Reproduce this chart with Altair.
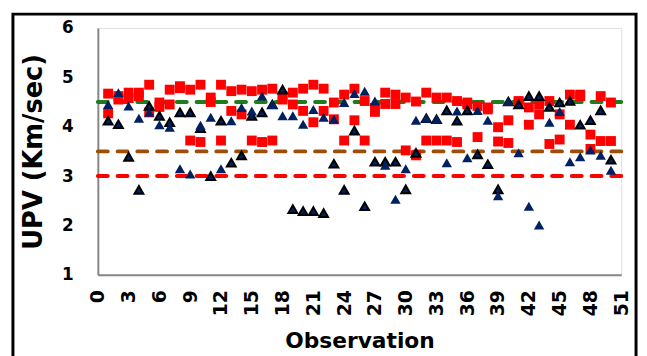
import altair as alt
import pandas as pd

# ---- data ----
obs = list(range(1, 51))
red_a = [4.67, 4.62, 4.69, 4.69, 4.85, 4.49, 4.75, 4.82, 4.75, 4.85,
         4.59, 4.85, 4.72, 4.75, 4.72, 4.75, 4.77, 4.62, 4.69, 4.77,
         4.85, 4.77, 4.49, 4.65, 4.77, 4.52, 4.38, 4.69, 4.65, 4.59,
         4.51, 4.69, 4.59, 4.59, 4.52, 4.49, 4.42, 4.39, 3.99, 4.13,
         4.52, 4.39, 4.45, 4.52, 4.25, 4.65, 4.65, 3.84, 4.62, 4.49]
red_b = [4.27, 4.55, 4.58, 4.62, 4.29, 4.40, 4.45, 4.78, 3.72, 3.69,
         4.50, 3.72, 4.32, 4.25, 3.72, 3.69, 3.72, 4.55, 4.45, 4.32,
         4.09, 4.32, 4.15, 3.72, 4.13, 3.72, 4.30, 4.46, 4.46, 3.52,
         3.42, 3.72, 3.72, 3.72, 3.69, 4.45, 3.79, 4.35, 3.70, 3.67,
         4.50, 4.04, 4.25, 3.65, 3.74, 4.04, 4.62, 3.55, 3.71, 3.71]
tri_outlined = [4.12, 4.05, 3.39, 2.72, 4.42, 4.22, 4.09, 4.29, 4.29, 3.97,
                3.00, 4.12, 3.27, 3.42, 4.22, 4.29, 4.45, 4.75, 2.33, 2.29,
                2.29, 2.25, 3.25, 2.72, 3.92, 2.39, 3.29, 3.29, 3.29, 2.73,
                3.47, 4.17, 4.15, 4.33, 4.12, 4.33, 3.44, 3.24, 2.73, 4.51,
                4.45, 4.62, 4.62, 4.40, 4.49, 4.52, 4.04, 4.13, 4.33, 3.33]
tri_plain = [4.45, 4.69, 4.42, 4.17, 4.29, 4.04, 3.99, 3.15, 3.04, 4.03,
             4.19, 3.15, 4.12, 4.39, 4.32, 4.62, 4.45, 4.22, 4.22, 4.05,
             4.35, 4.19, 4.15, 4.49, 4.67, 4.72, 4.52, 3.22, 2.53, 3.15,
             4.13, 4.17, 4.15, 3.27, 4.32, 3.37, 4.33, 4.13, 2.60, 4.51,
             3.47, 2.39, 2.01, 4.09, 4.31, 3.29, 3.39, 3.53, 3.42, 3.12]

ref_levels = [4.5, 3.5, 3.0]
ref_names = ["g", "b", "r"]
ref_colors = ["#1E7B1E", "#9C4F08", "#FF0000"]

x_ticks = list(range(0, 52, 3))
y_ticks = [1, 2, 3, 4, 5, 6]

FONT = "DejaVu Sans"

red_df = pd.DataFrame({"obs": obs * 2, "v": red_a + red_b})
to_df = pd.DataFrame({"obs": obs, "v": tri_outlined})
tp_df = pd.DataFrame({"obs": obs, "v": tri_plain})
ref_df = pd.DataFrame({"level": ref_levels, "name": ref_names})

xenc = alt.X("obs:Q",
             scale=alt.Scale(domain=[0, 51], nice=False, zero=False),
             axis=alt.Axis(values=x_ticks, labelAngle=-90, title="Observation",
                           grid=False, ticks=False, labelFontSize=19,
                           labelFontWeight="bold", labelFont=FONT,
                           labelColor="black", labelPadding=15,
                           domainColor="#868686", domainWidth=2,
                           titleFont=FONT, titleFontSize=22,
                           titleFontWeight="bold", titleColor="black",
                           titlePadding=15, labelOverlap=False))
yenc = alt.Y("v:Q",
             scale=alt.Scale(domain=[1, 6], nice=False, zero=False),
             axis=alt.Axis(values=y_ticks, title="UPV (Km/sec)", grid=False,
                           ticks=False, labelFontSize=17, labelFontWeight="bold",
                           labelFont=FONT, labelColor="black", labelPadding=25,
                           domainColor="#868686", domainWidth=2,
                           titleFont=FONT, titleFontSize=26,
                           titleFontWeight="bold", titleColor="black",
                           titlePadding=15))

rules = alt.Chart(ref_df).mark_rule(strokeDash=[10, 10], strokeWidth=4,
                                    strokeCap="round").encode(
    y=alt.Y("level:Q", scale=alt.Scale(domain=[1, 6], nice=False, zero=False)),
    color=alt.Color("name:N", scale=alt.Scale(domain=ref_names, range=ref_colors),
                    legend=None))

reds = alt.Chart(red_df).mark_point(shape="square", filled=True, size=100,
                                    color="#FF0000", opacity=1).encode(x=xenc, y=yenc)

tri_o = alt.Chart(to_df).mark_point(shape="triangle-up", filled=True, size=80,
                                    fill="#002060", stroke="black",
                                    strokeWidth=2, opacity=1).encode(x=xenc, y=yenc)

tri_p = alt.Chart(tp_df).mark_point(shape="triangle-up", filled=True, size=110,
                                    color="#002060", opacity=1).encode(x=xenc, y=yenc)

frame = alt.Chart(alt.Data(values=[{"a": 1}])).mark_rect(
    fillOpacity=0, stroke="black", strokeWidth=3).encode(
    x=alt.value(-86), x2=alt.value(545), y=alt.value(-14), y2=alt.value(420))

chart = alt.layer(frame, rules, reds, tri_o, tri_p).properties(
    width=530, height=250,
    autosize=alt.AutoSizeParams(type="none"),
    padding={"left": 91, "top": 18, "right": 18, "bottom": 80},
).configure_view(stroke="black", strokeWidth=2).configure(background="white")

chart.save("out.html", embed_options={"renderer": "svg", "actions": False})
